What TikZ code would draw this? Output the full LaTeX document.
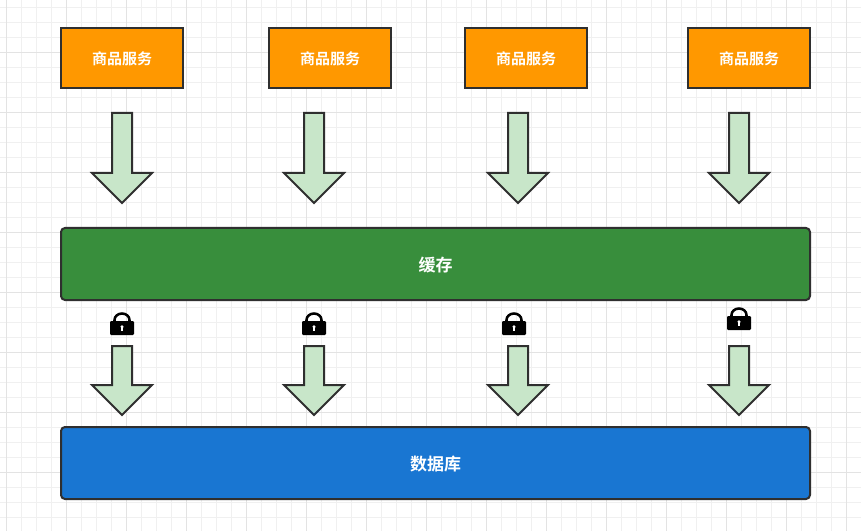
\documentclass[tikz,border=0pt]{standalone}
\usepackage{fontspec}
\newfontfamily\cjk{Noto Sans CJK SC}[BoldFont={Noto Sans CJK SC Bold}]
\definecolor{svcorange}{HTML}{FF9800}
\definecolor{cachegreen}{HTML}{388E3C}
\definecolor{dbblue}{HTML}{1976D2}
\definecolor{arrowfill}{HTML}{C8E6C9}
\definecolor{edge}{HTML}{2F2F2F}
\definecolor{gridminor}{HTML}{F0F0F0}
\definecolor{gridmajor}{HTML}{E3E3E3}
\tikzset{
  x=0.75pt,y=-0.75pt,
  svc/.style={draw=edge,line width=1.5pt,fill=svcorange},
  band/.style={draw=edge,line width=1.5pt,rounded corners=3pt},
  blockarrow/.style={draw=edge,line width=1.5pt,fill=arrowfill,line join=miter},
  lbl/.style={text=white,inner sep=0pt,font=\cjk\bfseries},
}
\newcommand{\blockarr}[4]{% centre, top, base, tip
  \draw[blockarrow] (#1-10,#2) -- (#1+10,#2) -- (#1+10,#3) -- (#1+30,#3) -- (#1,#4) -- (#1-30,#3) -- (#1-10,#3) -- cycle;}
\newcommand{\padlock}[2]{% centre x, body bottom y
  \draw[black,line width=1.9pt] (#1-7.5,#2-12) -- (#1-7.5,#2-15) arc[start angle=180,end angle=360,x radius=7.5,y radius=6.5] -- (#1+7.5,#2-12);
  \fill[black,rounded corners=0.8pt] (#1-12,#2-14) rectangle (#1+12,#2);
  \fill[white] (#1,#2-8.2) circle[radius=1.7];
  \fill[white] (#1-0.6,#2-8) rectangle (#1+0.6,#2-4.5);}
\begin{document}
\begin{tikzpicture}
\useasboundingbox (0,0) rectangle (861,531);
\fill[white] (0,0) rectangle (861,531);
\foreach \k in {0,...,57} \draw[gridminor,line width=0.75pt] ({6.5+15*\k},0) -- ({6.5+15*\k},531);
\foreach \k in {0,...,35} \draw[gridminor,line width=0.75pt] (0,{7.5+15*\k}) -- (861,{7.5+15*\k});
\foreach \k in {0,...,14} \draw[gridmajor,line width=0.75pt] ({6.5+60*\k},0) -- ({6.5+60*\k},531);
\foreach \k in {0,...,8} \draw[gridmajor,line width=0.75pt] (0,{52.5+60*\k-60}) -- (861,{52.5+60*\k-60});
% service boxes
\foreach \xa/\nm in {61/a,269/b,465/c,688/d}{
  \draw[svc] (\xa,28) rectangle (\xa+122,88);
  \node[lbl,font=\cjk\bfseries\fontsize{11.25pt}{13pt}\selectfont] (svc\nm) at (\xa+61,58.5) {商品服务};
}
% cache and database
\draw[band,fill=cachegreen] (61,228) rectangle (810,300);
\node[lbl,font=\cjk\bfseries\fontsize{12.75pt}{15pt}\selectfont] (cache) at (435.5,265.5) {缓存};
\draw[band,fill=dbblue] (61,427) rectangle (810,499);
\node[lbl,font=\cjk\bfseries\fontsize{12.75pt}{15pt}\selectfont] (db) at (435.5,464.5) {数据库};
% block arrows
\foreach \c in {122,314,518,739}{
  \blockarr{\c}{113}{173}{203}
  \blockarr{\c}{346}{385}{415}
}
% locks
\padlock{122}{335}
\padlock{314}{335}
\padlock{514}{335}
\padlock{739}{330}
\end{tikzpicture}
\end{document}
